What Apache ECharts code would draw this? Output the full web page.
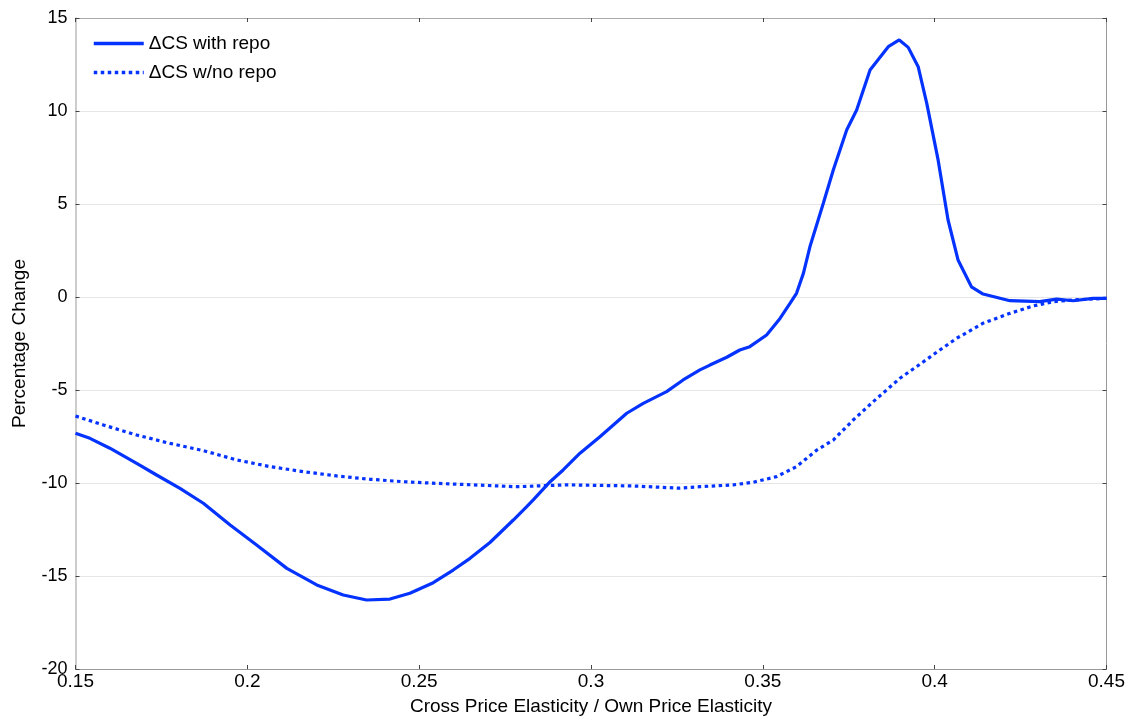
<!DOCTYPE html>
<html>
<head>
<meta charset="utf-8">
<script src="https://cdn.jsdelivr.net/npm/echarts@6/dist/echarts.min.js"></script>
<style>
html,body{margin:0;padding:0;background:#fff;}
#chart{width:1133px;height:721px;}
</style>
</head>
<body>
<div id="chart"></div>
<script>
// Data
var withRepoX = [0.15,0.1542,0.16,0.1678,0.1736,0.1804,0.1872,0.195,0.2027,0.2115,0.2202,0.2279,0.2347,0.2415,0.2473,0.2541,0.2599,0.2648,0.2706,0.2774,0.2813,0.2832,0.2881,0.2919,0.2968,0.3026,0.3104,0.3152,0.322,0.3268,0.3317,0.3346,0.3395,0.3433,0.3462,0.3511,0.355,0.3579,0.3598,0.3618,0.3637,0.3676,0.3705,0.3744,0.3773,0.3812,0.3865,0.3897,0.3923,0.3952,0.3977,0.401,0.4039,0.4068,0.4107,0.4141,0.4219,0.4306,0.4355,0.4403,0.4461,0.45];
var withRepoY = [-7.33,-7.6,-8.13,-8.94,-9.57,-10.29,-11.09,-12.26,-13.33,-14.59,-15.48,-16.02,-16.29,-16.24,-15.93,-15.36,-14.68,-14.05,-13.2,-11.99,-11.27,-10.91,-9.93,-9.3,-8.4,-7.51,-6.25,-5.72,-5.09,-4.46,-3.92,-3.66,-3.24,-2.85,-2.67,-2.04,-1.15,-0.34,0.2,1.27,2.7,5.04,6.83,8.98,10.05,12.2,13.46,13.82,13.42,12.38,10.41,7.37,4.14,1.99,0.55,0.16,-0.2,-0.25,-0.11,-0.2,-0.07,-0.07];
var noRepoX = [0.15,0.1581,0.1678,0.1775,0.1872,0.1969,0.2066,0.2163,0.226,0.2357,0.2454,0.2551,0.2657,0.2784,0.2929,0.3123,0.3259,0.3317,0.3414,0.3472,0.354,0.3598,0.3657,0.3705,0.3763,0.3821,0.386,0.3899,0.3947,0.4015,0.4064,0.4141,0.4219,0.4287,0.4345,0.4403,0.45];
var noRepoY = [-6.4,-6.88,-7.42,-7.87,-8.26,-8.76,-9.12,-9.39,-9.62,-9.8,-9.93,-10.02,-10.1,-10.2,-10.1,-10.16,-10.28,-10.2,-10.1,-9.96,-9.66,-9.12,-8.23,-7.69,-6.61,-5.63,-5.0,-4.37,-3.75,-2.85,-2.22,-1.41,-0.88,-0.48,-0.25,-0.16,-0.07];
var seriesNames = ['\u0394CS with repo', '\u0394CS w/no repo'];
var xAxisName = 'Cross Price Elasticity / Own Price Elasticity';
var yAxisName = 'Percentage Change';

function pairs(xs, ys){ return xs.map(function(x,i){ return [x, ys[i]]; }); }

var chart = echarts.init(document.getElementById('chart'), null, {renderer:'canvas'});
var font = '"Liberation Sans", Arial, Helvetica, sans-serif';
var blue = '#0433ff';
var tickStyle = {show:true, inside:true, length:4, lineStyle:{color:'#444', width:1}};
chart.setOption({
  animation:false,
  backgroundColor:'#fff',
  textStyle:{fontFamily:font},
  grid:{left:75.5, right:26.5, top:18, bottom:52, containLabel:false},
  legend:{
    show:true, orient:'vertical', left:87, top:29,
    itemWidth:50, itemHeight:14, itemGap:10,
    itemStyle:{opacity:0},
    lineStyle:{width:3.5},
    textStyle:{fontSize:19, color:'#000', fontFamily:font},
    data:seriesNames
  },
  xAxis:[{
    type:'value', min:0.15, max:0.45, interval:0.05,
    name:xAxisName, nameLocation:'middle', nameGap:28,
    nameTextStyle:{fontSize:19, color:'#000', fontFamily:font},
    axisLine:{show:true, onZero:false, lineStyle:{color:'#999', width:1}},
    axisTick:tickStyle,
    axisLabel:{fontSize:19, color:'#000', margin:3, fontFamily:font},
    splitLine:{show:false}
  },{
    type:'value', position:'top', min:0.15, max:0.45, interval:0.05,
    axisLine:{show:true, onZero:false, lineStyle:{color:'#aaa', width:1}},
    axisTick:tickStyle, axisLabel:{show:false}, splitLine:{show:false}
  }],
  yAxis:[{
    type:'value', min:-20, max:15, interval:5,
    name:yAxisName, nameLocation:'middle', nameGap:46,
    nameTextStyle:{fontSize:19, color:'#000', fontFamily:font},
    axisLine:{show:true, onZero:false, lineStyle:{color:'#bbb', width:1.5}},
    axisTick:tickStyle,
    axisLabel:{fontSize:18, color:'#000', margin:8, fontFamily:font},
    splitLine:{show:true, lineStyle:{color:'#e6e6e6', width:1}}
  },{
    type:'value', position:'right', min:-20, max:15, interval:5,
    axisLine:{show:true, onZero:false, lineStyle:{color:'#999', width:1}},
    axisTick:tickStyle, axisLabel:{show:false}, splitLine:{show:false}
  }],
  series:[{
    name:seriesNames[0], type:'line', xAxisIndex:0, yAxisIndex:0,
    data:pairs(withRepoX, withRepoY), showSymbol:false, symbol:'none',
    lineStyle:{color:blue, width:3.2, type:'solid'}, itemStyle:{color:blue}
  },{
    name:seriesNames[1], type:'line', xAxisIndex:0, yAxisIndex:0,
    data:pairs(noRepoX, noRepoY), showSymbol:false, symbol:'none',
    lineStyle:{color:blue, width:3.2, type:[3.5,3.5]}, itemStyle:{color:blue}
  }]
});
</script>
</body>
</html>
